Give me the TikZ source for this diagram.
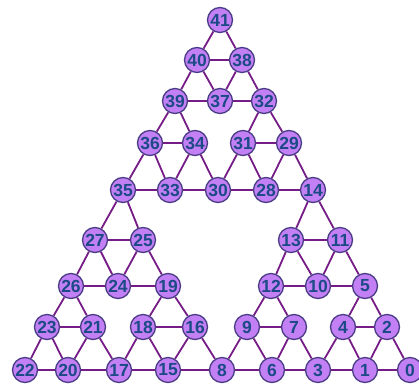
\documentclass[tikz,border=0pt]{standalone}
\usepackage{fontspec}
\setmainfont{Liberation Sans}
\pgfdeclarelayer{background}
\pgfsetlayers{background,main}
\definecolor{nodefill}{HTML}{C280F4}
\definecolor{nodeborder}{HTML}{4A3C86}
\definecolor{nodetext}{HTML}{1C4A86}
\definecolor{edgecol}{HTML}{761C86}
\tikzset{
  vtx/.style={circle,draw=nodeborder,line width=1.3pt,fill=nodefill,inner sep=0pt,
    minimum size=25pt,text=nodetext,font=\fontsize{17.5}{17.5}\selectfont\bfseries},
  edge/.style={draw=edgecol,line width=1.8pt}
}
\begin{document}
\begin{tikzpicture}[x=1pt,y=-1pt]
\useasboundingbox (0,0) rectangle (419,385);
\clip (0,0) rectangle (419,385);
\foreach \n/\x/\y in {41/220/20,
  40/197/60, 38/242/60,
  39/175/101, 37/220/101, 32/264/101,
  36/150/143, 34/195/143, 31/243/143, 29/289/143,
  35/123/190, 33/170/190, 30/218/190, 28/266/190, 14/313/190,
  27/95/240, 25/143/240, 13/291/240, 11/340/240,
  26/71/286, 24/118/286, 19/168/286, 12/271/286, 10/318/286, 5/365/286,
  23/47/327, 21/93/327, 18/143/327, 16/195/327, 9/247/327, 7/294/327, 4/343/327, 2/387/327,
  22/25/370, 20/68/370, 17/119/370, 15/168/370, 8/222/370, 6/272/370, 3/318/370, 1/365/370, 0/410/370}
  {\node[vtx] (n\n) at (\x,\y) {\n};}
\begin{pgfonlayer}{background}
% each small triangle: p; q1,q2; r1,r2,r3
\foreach \p/\qa/\qb/\ra/\rb/\rc in {
  41/40/38/39/37/32, 39/36/34/35/33/30, 32/31/29/30/28/14,
  35/27/25/26/24/19, 26/23/21/22/20/17, 19/18/16/17/15/8,
  14/13/11/12/10/5, 12/9/7/8/6/3, 5/4/2/3/1/0}
{
  \path[edge] (n\p) -- (n\qa) (n\p) -- (n\qb) (n\qa) -- (n\qb)
    (n\qa) -- (n\ra) (n\qa) -- (n\rb) (n\ra) -- (n\rb)
    (n\qb) -- (n\rb) (n\qb) -- (n\rc) (n\rb) -- (n\rc);
}
\end{pgfonlayer}
\end{tikzpicture}
\end{document}
